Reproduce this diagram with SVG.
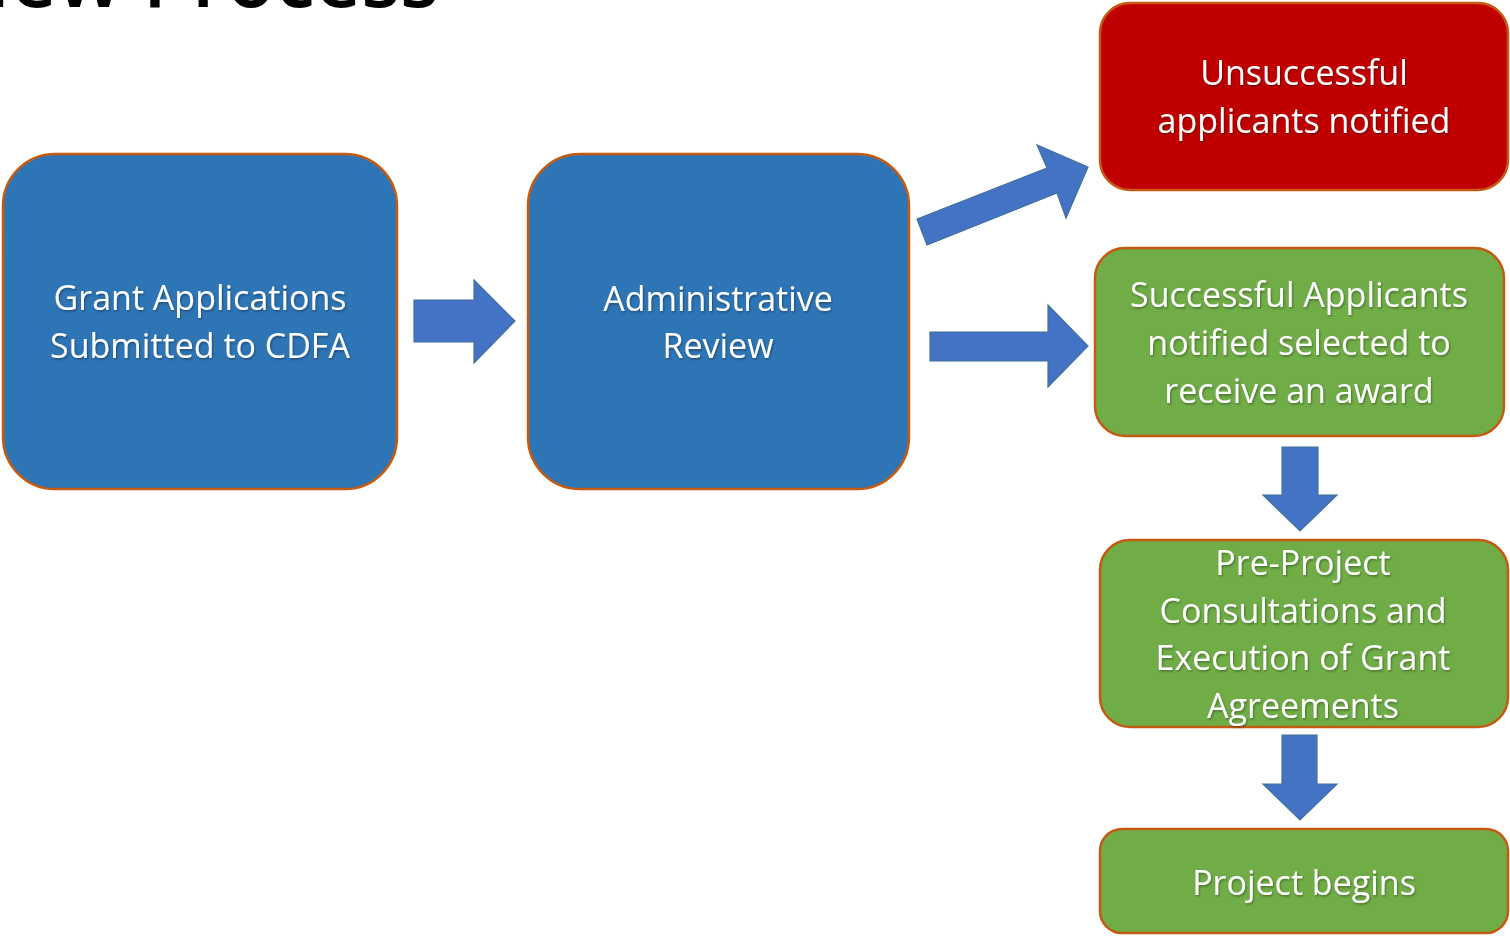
<svg xmlns="http://www.w3.org/2000/svg" width="1510" height="936" viewBox="0 0 1510 936">
  <defs>
    <filter id="ts" x="-10%" y="-30%" width="120%" height="160%">
      <feDropShadow dx="1" dy="1.5" stdDeviation="1.2" flood-color="#000" flood-opacity="0.35"/>
    </filter>
  </defs>
  <style>
    .node { stroke: #C55A11; stroke-width: 2.5; }
    .blue { fill: #2E75B6; }
    .red { fill: #C00000; }
    .green { fill: #70AD47; }
    .lbl { font-family: "Open Sans", "Noto Sans", "Liberation Sans", sans-serif; font-size: 34px; fill: #FFFFFF; text-anchor: middle; filter: url(#ts); }
    .arrow { fill: #4472C4; stroke: #41719C; stroke-width: 1.2; stroke-linejoin: miter; }
    .title { font-family: "Open Sans", "Noto Sans", "Liberation Sans", sans-serif; font-size: 80px; font-weight: 600; fill: #000000; }
  </style>
  <rect width="1510" height="936" fill="#FFFFFF"/>

  <text class="title" x="-52" y="7">New Process</text>

  <g id="connectors">
    <polygon class="arrow" points="414,300 474,300 474,280 515,321 474,363 474,342 414,342"/>
    <polygon class="arrow" points="917,219 1047,168 1037,145 1088,167 1066,218 1057,193 927,245"/>
    <polygon class="arrow" points="930,332 1048,332 1048,305 1088,346 1048,387 1048,361 930,361"/>
    <polygon class="arrow" points="1282,447 1318,447 1318,495 1337,495 1300,531 1263,495 1282,495"/>
    <polygon class="arrow" points="1282,735 1317,735 1317,784 1337,784 1300,820 1263,784 1282,784"/>
  </g>

  <g id="node-grant">
    <rect class="node blue" x="3" y="154" width="394" height="335" rx="52" ry="52"/>
    <text class="lbl" x="200" y="310">Grant Applications</text>
    <text class="lbl" x="200" y="358">Submitted to CDFA</text>
  </g>

  <g id="node-review">
    <rect class="node blue" x="528" y="154" width="381" height="335" rx="52" ry="52"/>
    <text class="lbl" x="718" y="311">Administrative</text>
    <text class="lbl" x="718" y="358">Review</text>
  </g>

  <g id="node-unsuccessful">
    <rect class="node red" x="1100" y="3" width="408" height="187" rx="30" ry="30"/>
    <text class="lbl" x="1304" y="85">Unsuccessful</text>
    <text class="lbl" x="1304" y="133">applicants notified</text>
  </g>

  <g id="node-successful">
    <rect class="node green" x="1095" y="248" width="409" height="188" rx="30" ry="30"/>
    <text class="lbl" x="1299" y="307">Successful Applicants</text>
    <text class="lbl" x="1299" y="355">notified selected to</text>
    <text class="lbl" x="1299" y="403">receive an award</text>
  </g>

  <g id="node-preproject">
    <rect class="node green" x="1100" y="540" width="408" height="187" rx="30" ry="30"/>
    <text class="lbl" x="1303" y="575">Pre-Project</text>
    <text class="lbl" x="1303" y="623">Consultations and</text>
    <text class="lbl" x="1303" y="670">Execution of Grant</text>
    <text class="lbl" x="1303" y="718">Agreements</text>
  </g>

  <g id="node-begins">
    <rect class="node green" x="1100" y="829" width="408" height="104" rx="22" ry="22"/>
    <text class="lbl" x="1304" y="895">Project begins</text>
  </g>
</svg>
